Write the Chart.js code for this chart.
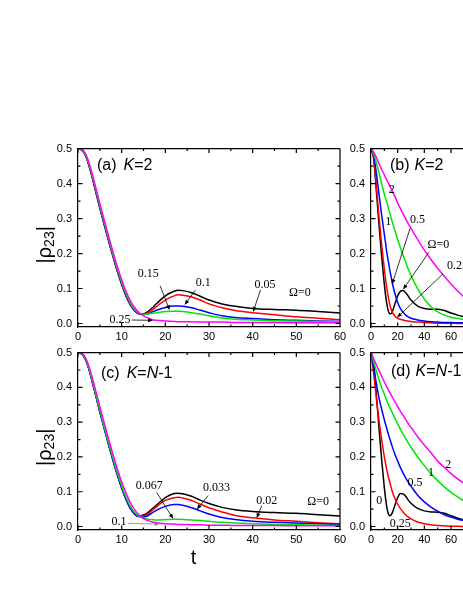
<!DOCTYPE html>
<html lang="en">
<head>
<meta charset="UTF-8">
<title>|rho23| vs t</title>
<script src="https://cdn.jsdelivr.net/npm/chart.js@4.4.0/dist/chart.umd.min.js"></script>
<style>
  html, body { margin: 0; padding: 0; background: #fff; overflow: hidden; }
  body { width: 463px; height: 599px; position: relative; }
  canvas { position: absolute; }
</style>
</head>
<body>
<canvas id="panelA" width="352" height="210" style="left:0;top:136px"></canvas>
<canvas id="panelB" width="123" height="210" style="left:340px;top:136px"></canvas>
<canvas id="panelC" width="352" height="240" style="left:0;top:340px"></canvas>
<canvas id="panelD" width="123" height="240" style="left:340px;top:340px"></canvas>
<script>
// ---- data ----
// panels (a) and (c): time grid
const tAC = [0, 1, 2, 3, 4, 5, 6, 7, 8, 9, 10, 11, 12, 13, 14, 15, 16, 17, 18, 20, 22, 23, 24, 26, 28, 30, 33, 36, 40, 45, 50, 55, 60];

// (a) K=2, Omega = 0, 0.05, 0.1, 0.15, 0.25
const aW0    = [0.5, 0.495, 0.472, 0.43, 0.38, 0.33, 0.283, 0.237, 0.192, 0.15, 0.112, 0.079, 0.053, 0.036, 0.028, 0.028, 0.034, 0.045, 0.057, 0.079, 0.092, 0.095, 0.094, 0.088, 0.078, 0.067, 0.056, 0.049, 0.043, 0.040, 0.038, 0.034, 0.030];
const aW005  = [0.5, 0.495, 0.472, 0.43, 0.38, 0.33, 0.283, 0.237, 0.192, 0.15, 0.112, 0.079, 0.053, 0.036, 0.028, 0.027, 0.031, 0.039, 0.049, 0.067, 0.079, 0.082, 0.081, 0.076, 0.067, 0.056, 0.045, 0.037, 0.031, 0.025, 0.019, 0.015, 0.011];
const aW01   = [0.5, 0.495, 0.473, 0.432, 0.382, 0.332, 0.285, 0.239, 0.194, 0.152, 0.114, 0.081, 0.055, 0.037, 0.028, 0.026, 0.028, 0.033, 0.038, 0.046, 0.050, 0.050, 0.049, 0.045, 0.038, 0.031, 0.022, 0.017, 0.014, 0.011, 0.009, 0.007, 0.006];
const aW015  = [0.5, 0.496, 0.475, 0.435, 0.386, 0.336, 0.289, 0.243, 0.198, 0.156, 0.118, 0.085, 0.058, 0.039, 0.029, 0.026, 0.027, 0.029, 0.031, 0.034, 0.035, 0.035, 0.034, 0.031, 0.027, 0.022, 0.016, 0.012, 0.010, 0.008, 0.007, 0.006, 0.005];
const aW025  = [0.5, 0.497, 0.478, 0.44, 0.392, 0.343, 0.296, 0.25, 0.205, 0.163, 0.125, 0.092, 0.065, 0.045, 0.031, 0.022, 0.016, 0.011, 0.009, 0.007, 0.006, 0.005, 0.005, 0.005, 0.004, 0.004, 0.004, 0.003, 0.003, 0.003, 0.002, 0.002, 0.002];

// (c) K=N-1, Omega = 0, 0.02, 0.033, 0.067, 0.1
const cW0    = [0.5, 0.495, 0.472, 0.43, 0.38, 0.33, 0.283, 0.237, 0.192, 0.15, 0.112, 0.079, 0.053, 0.037, 0.031, 0.033, 0.040, 0.051, 0.062, 0.083, 0.095, 0.096, 0.094, 0.087, 0.076, 0.066, 0.055, 0.048, 0.043, 0.040, 0.038, 0.034, 0.030];
const cW002  = [0.5, 0.495, 0.472, 0.43, 0.38, 0.33, 0.283, 0.237, 0.192, 0.15, 0.112, 0.079, 0.053, 0.037, 0.030, 0.030, 0.036, 0.046, 0.057, 0.075, 0.083, 0.084, 0.082, 0.075, 0.064, 0.054, 0.042, 0.032, 0.025, 0.019, 0.015, 0.011, 0.008];
const cW0033 = [0.5, 0.495, 0.472, 0.43, 0.38, 0.33, 0.282, 0.236, 0.191, 0.149, 0.111, 0.078, 0.052, 0.035, 0.028, 0.027, 0.031, 0.039, 0.047, 0.058, 0.063, 0.063, 0.061, 0.054, 0.045, 0.036, 0.026, 0.020, 0.015, 0.012, 0.010, 0.008, 0.006];
const cW0067 = [0.5, 0.496, 0.474, 0.433, 0.384, 0.334, 0.287, 0.241, 0.197, 0.155, 0.117, 0.084, 0.058, 0.040, 0.029, 0.024, 0.021, 0.020, 0.019, 0.020, 0.021, 0.021, 0.020, 0.019, 0.017, 0.015, 0.012, 0.010, 0.008, 0.006, 0.005, 0.004, 0.003];
const cW01   = [0.5, 0.497, 0.478, 0.44, 0.393, 0.345, 0.298, 0.252, 0.208, 0.166, 0.128, 0.096, 0.068, 0.048, 0.033, 0.023, 0.017, 0.013, 0.011, 0.008, 0.007, 0.006, 0.006, 0.005, 0.005, 0.004, 0.004, 0.003, 0.003, 0.003, 0.002, 0.002, 0.002];

// panels (b) and (d): time grid
const tBD = [0, 2, 4, 6, 8, 10, 11, 12, 13, 14, 15, 16, 18, 20, 22, 24, 26, 28, 30, 35, 40, 45, 50, 55, 60, 65, 70];

// (b) K=2, Omega = 0, 0.25, 0.5, 1, 2
const bW0    = [0.5, 0.472, 0.38, 0.283, 0.192, 0.112, 0.079, 0.053, 0.036, 0.028, 0.028, 0.034, 0.057, 0.079, 0.092, 0.094, 0.088, 0.078, 0.067, 0.050, 0.043, 0.041, 0.041, 0.037, 0.030, 0.024, 0.019];
const bW025  = [0.5, 0.475, 0.395, 0.305, 0.225, 0.155, 0.125, 0.098, 0.075, 0.056, 0.042, 0.032, 0.021, 0.015, 0.012, 0.010, 0.008, 0.007, 0.006, 0.004, 0.003, 0.002, 0.001, 0.001, 0.001, 0.0, 0.0];
const bW05   = [0.5, 0.48, 0.43, 0.37, 0.31, 0.255, 0.228, 0.2, 0.178, 0.155, 0.135, 0.115, 0.085, 0.06, 0.043, 0.032, 0.024, 0.019, 0.015, 0.01, 0.007, 0.005, 0.004, 0.003, 0.003, 0.002, 0.002];
const bW1    = [0.5, 0.485, 0.46, 0.43, 0.4, 0.37, 0.357, 0.345, 0.33, 0.317, 0.303, 0.29, 0.265, 0.24, 0.217, 0.195, 0.175, 0.155, 0.137, 0.1, 0.07, 0.048, 0.033, 0.024, 0.018, 0.014, 0.011];
const bW2    = [0.5, 0.49, 0.475, 0.457, 0.44, 0.425, 0.417, 0.41, 0.402, 0.394, 0.386, 0.378, 0.362, 0.345, 0.329, 0.314, 0.299, 0.285, 0.272, 0.24, 0.21, 0.183, 0.158, 0.135, 0.113, 0.093, 0.075];

// (d) K=N-1, Omega = 0, 0.25, 0.5, 1, 2
const dW0    = [0.5, 0.472, 0.38, 0.283, 0.192, 0.112, 0.079, 0.053, 0.037, 0.031, 0.033, 0.040, 0.062, 0.083, 0.095, 0.094, 0.087, 0.076, 0.067, 0.052, 0.045, 0.042, 0.041, 0.038, 0.031, 0.024, 0.018];
const dW025  = [0.5, 0.44, 0.37, 0.305, 0.25, 0.2, 0.18, 0.16, 0.143, 0.128, 0.114, 0.1, 0.08, 0.064, 0.052, 0.042, 0.034, 0.027, 0.022, 0.013, 0.008, 0.005, 0.003, 0.002, 0.001, 0.001, 0.0];
const dW05   = [0.5, 0.455, 0.412, 0.37, 0.337, 0.307, 0.293, 0.279, 0.266, 0.253, 0.241, 0.229, 0.207, 0.188, 0.17, 0.154, 0.14, 0.127, 0.116, 0.09, 0.071, 0.056, 0.044, 0.034, 0.027, 0.021, 0.017];
const dW1    = [0.5, 0.473, 0.447, 0.422, 0.4, 0.38, 0.37, 0.36, 0.352, 0.343, 0.335, 0.327, 0.31, 0.295, 0.28, 0.266, 0.253, 0.24, 0.228, 0.2, 0.175, 0.152, 0.132, 0.114, 0.098, 0.085, 0.073];
const dW2    = [0.5, 0.482, 0.465, 0.448, 0.432, 0.416, 0.408, 0.4, 0.393, 0.386, 0.379, 0.372, 0.358, 0.345, 0.332, 0.32, 0.308, 0.296, 0.285, 0.258, 0.234, 0.212, 0.188, 0.17, 0.152, 0.137, 0.123];

// ticks
const yTicks = [0.0, 0.1, 0.2, 0.3, 0.4, 0.5];
const yMinor = [0.05, 0.15, 0.25, 0.35, 0.45];
const xTicksAC = [0, 10, 20, 30, 40, 50, 60];
const xMinorAC = [5, 15, 25, 35, 45, 55];
const xTicksBD = [0, 20, 40, 60];
const xMinorBD = [10, 30, 50];

const lineColors = ['#000000', '#ff0000', '#0000ff', '#00e600', '#ff00ff'];

Chart.defaults.font.family = '"Liberation Sans", Arial, sans-serif';
Chart.defaults.color = '#000';

function pts(t, v) { return t.map((x, i) => ({ x: x, y: v[i] })); }

function arrow(ctx, x1, y1, x2, y2, color) {
    const ang = Math.atan2(y2 - y1, x2 - x1), L = 5, W = 2;
    const c = Math.cos(ang), s = Math.sin(ang);
    ctx.strokeStyle = color; ctx.fillStyle = color; ctx.lineWidth = 0.8;
    ctx.beginPath();
    ctx.moveTo(x1, y1);
    ctx.lineTo(x2 - L * 0.8 * c, y2 - L * 0.8 * s);
    ctx.stroke();
    ctx.beginPath();
    ctx.moveTo(x2, y2);
    ctx.lineTo(x2 - L * c + W * s, y2 - L * s - W * c);
    ctx.lineTo(x2 - L * c - W * s, y2 - L * s + W * c);
    ctx.closePath();
    ctx.fill();
}

// draw runs of text, some italic, starting at x
function runs(ctx, x, y, parts, size) {
    ctx.textAlign = 'left';
    ctx.textBaseline = 'middle';
    parts.forEach(p => {
        ctx.font = (p.i ? 'italic ' : '') + size + 'px "Liberation Sans", Arial';
        ctx.fillText(p.s, x, y);
        x += ctx.measureText(p.s).width + (p.gap || 0);
    });
}

const decor = {
    id: 'decor',
    afterDraw(chart, args, o) {
        const { ctx, chartArea: a, scales: { x, y } } = chart;
        ctx.save();
        // frame and inward ticks
        ctx.strokeStyle = '#000';
        ctx.lineWidth = 1.2;
        ctx.beginPath();
        ctx.moveTo(a.left, a.top); ctx.lineTo(a.right, a.top);
        if (o.right) { ctx.moveTo(a.right, a.top); ctx.lineTo(a.right, a.bottom); }
        const tk = (px, py, dx, dy) => { ctx.moveTo(px, py); ctx.lineTo(px + dx, py + dy); };
        o.xMajor.forEach(v => { const p = x.getPixelForValue(v); tk(p, a.bottom, 0, -4.5); tk(p, a.top, 0, 4.5); });
        o.xMinor.forEach(v => { const p = x.getPixelForValue(v); tk(p, a.bottom, 0, -2.5); tk(p, a.top, 0, 2.5); });
        yTicks.forEach(v => { const p = y.getPixelForValue(v); tk(a.left, p, 4.5, 0); if (o.right) tk(a.right, p, -4.5, 0); });
        yMinor.forEach(v => { const p = y.getPixelForValue(v); tk(a.left, p, 2.5, 0); if (o.right) tk(a.right, p, -2.5, 0); });
        ctx.stroke();

        // arrows
        (o.arrows || []).forEach(r => {
            arrow(ctx, x.getPixelForValue(r[0]), y.getPixelForValue(r[1]),
                x.getPixelForValue(r[2]), y.getPixelForValue(r[3]), r[4] || '#000');
        });
        // curve labels
        ctx.fillStyle = '#000';
        ctx.font = '12px "Liberation Serif", "Times New Roman", serif';
        ctx.textBaseline = 'middle';
        (o.texts || []).forEach(r => {
            ctx.textAlign = r.align || 'center';
            ctx.fillText(r.s, x.getPixelForValue(r.t), y.getPixelForValue(r.v));
        });
        // panel label
        runs(ctx, a.left + o.label.dx, a.top + o.label.dy, o.label.parts, 16);

        // y axis title |rho_23|
        if (o.ytitle) {
            ctx.translate(o.ytitle.x, (a.top + a.bottom) / 2 + o.ytitle.dy);
            ctx.rotate(-Math.PI / 2);
            ctx.textBaseline = 'middle';
            ctx.textAlign = 'left';
            const big = '20px "Liberation Sans", Arial', small = '14px "Liberation Sans", Arial';
            ctx.font = big; const w1 = ctx.measureText('|\u03c1').width, w3 = ctx.measureText('|').width;
            ctx.font = small; const w2 = ctx.measureText('23').width;
            let sx = -(w1 + w2 + w3) / 2;
            ctx.font = big; ctx.fillText('|\u03c1', sx, 0); sx += w1;
            ctx.font = small; ctx.fillText('23', sx, 5); sx += w2;
            ctx.font = big; ctx.fillText('|', sx, 0);
            ctx.setTransform(1, 0, 0, 1, 0, 0);
        }
        if (o.xtitle) {
            ctx.font = '20px "Liberation Sans", Arial';
            ctx.textAlign = 'center';
            ctx.textBaseline = 'middle';
            ctx.fillText('t', o.xtitle.x, o.xtitle.y);
        }
        ctx.restore();
    }
};

function makePanel(id, t, series, cfg) {
    const datasets = series.map((v, i) => ({
        data: pts(t, v),
        borderColor: lineColors[i],
        backgroundColor: lineColors[i],
        borderWidth: 1.5,
        pointRadius: 0,
        fill: false,
        cubicInterpolationMode: 'monotone',
        order: series.length - i
    }));
    return new Chart(document.getElementById(id), {
        type: 'line',
        data: { datasets: datasets },
        plugins: [decor],
        options: {
            responsive: false,
            animation: false,
            events: [],
            layout: { padding: cfg.pad },
            plugins: { legend: { display: false }, tooltip: { enabled: false }, decor: cfg.decor },
            scales: {
                x: {
                    type: 'linear', min: 0, max: cfg.xmax,
                    afterBuildTicks: s => { s.ticks = cfg.xt.map(v => ({ value: v })); },
                    afterFit: s => { s.height = cfg.xh; },
                    grid: { display: false, drawTicks: false },
                    border: { display: true, color: '#000', width: 1.2 },
                    ticks: { font: { size: 11 }, padding: 3, maxRotation: 0, autoSkip: false, callback: v => String(v) }
                },
                y: {
                    type: 'linear', min: -0.01, max: 0.5,
                    afterBuildTicks: s => { s.ticks = yTicks.map(v => ({ value: v })); },
                    afterFit: s => { s.width = cfg.yw; },
                    grid: { display: false, drawTicks: false },
                    border: { display: true, color: '#000', width: 1.2 },
                    ticks: { font: { size: 11 }, padding: 6, autoSkip: false, callback: v => v.toFixed(1) }
                }
            }
        }
    });
}

makePanel('panelA', tAC, [aW0, aW005, aW01, aW015, aW025], {
    xmax: 60, xt: xTicksAC, xh: 19, yw: 78, pad: { top: 10, right: 12, left: 0, bottom: 0 },
    decor: {
        right: true, xMajor: xTicksAC, xMinor: xMinorAC,
        label: { dx: 19, dy: 17, parts: [{ s: '(a)', gap: 7 }, { s: 'K', i: true }, { s: '=2' }] },
        ytitle: { x: 45, dy: 7 },
        texts: [
            { t: 16.1, v: 0.141, s: '0.15' }, { t: 28.7, v: 0.116, s: '0.1' },
            { t: 42.8, v: 0.111, s: '0.05' }, { t: 50.8, v: 0.089, s: '\u03a9=0' },
            { t: 9.6, v: 0.01, s: '0.25' }
        ],
        arrows: [[18.8, 0.108, 21.0, 0.038], [26.9, 0.096, 24.4, 0.053], [41.8, 0.096, 40.1, 0.033], [12.3, 0.01, 17.2, 0.009]]
    }
});

makePanel('panelB', tBD, [bW0, bW025, bW05, bW1, bW2], {
    xmax: 69, xt: xTicksBD, xh: 19, yw: 31, pad: { top: 10, right: 0, left: 0, bottom: 0 },
    decor: {
        right: false, xMajor: xTicksBD, xMinor: xMinorBD,
        label: { dx: 19, dy: 17, parts: [{ s: '(b)', gap: 5 }, { s: 'K', i: true }, { s: '=2' }] },
        texts: [
            { t: 15.5, v: 0.381, s: '2' }, { t: 13, v: 0.291, s: '1' },
            { t: 34.9, v: 0.296, s: '0.5' }, { t: 50.5, v: 0.226, s: '\u03a9=0' },
            { t: 57, v: 0.165, s: '0.25', align: 'left' }
        ],
        arrows: [[29.3, 0.272, 15.8, 0.112], [43.5, 0.204, 24, 0.097], [54, 0.142, 19.5, 0.017]]
    }
});

makePanel('panelC', tAC, [cW0, cW002, cW0033, cW0067, cW01], {
    xmax: 60, xt: xTicksAC, xh: 50, yw: 78, pad: { top: 9.5, right: 12, left: 0, bottom: 0 },
    decor: {
        right: true, xMajor: xTicksAC, xMinor: xMinorAC,
        label: { dx: 23, dy: 20.5, parts: [{ s: '(c)', gap: 7 }, { s: 'K', i: true }, { s: '=' }, { s: 'N', i: true }, { s: '-1' }] },
        ytitle: { x: 45, dy: 6 },
        xtitle: { x: 193.5, y: 218 },
        texts: [
            { t: 16.3, v: 0.117, s: '0.067' }, { t: 31.7, v: 0.111, s: '0.033' },
            { t: 43.2, v: 0.075, s: '0.02' }, { t: 55, v: 0.07, s: '\u03a9=0' },
            { t: 9.4, v: 0.0135, s: '0.1' }
        ],
        arrows: [[18.0, 0.098, 21.8, 0.022], [29.8, 0.089, 27.2, 0.049], [42.1, 0.060, 40.9, 0.024], [11.5, 0.009, 18.7, 0.007, '#808080']]
    }
});

makePanel('panelD', tBD, [dW0, dW025, dW05, dW1, dW2], {
    xmax: 69, xt: xTicksBD, xh: 50, yw: 31, pad: { top: 9.5, right: 0, left: 0, bottom: 0 },
    decor: {
        right: false, xMajor: xTicksBD, xMinor: xMinorBD,
        label: { dx: 20, dy: 19, parts: [{ s: '(d)', gap: 5 }, { s: 'K', i: true }, { s: '=' }, { s: 'N', i: true }, { s: '-1' }] },
        texts: [
            { t: 58, v: 0.178, s: '2' }, { t: 45, v: 0.155, s: '1' },
            { t: 33, v: 0.126, s: '0.5' }, { t: 6.2, v: 0.075, s: '0' },
            { t: 22, v: 0.007, s: '0.25' }
        ]
    }
});
</script>
</body>
</html>
